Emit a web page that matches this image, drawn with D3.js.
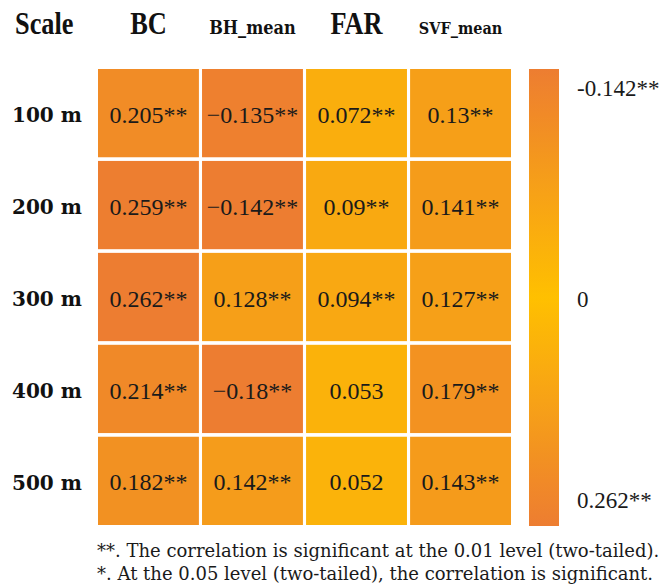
<!DOCTYPE html>
<html>
<head>
<meta charset="utf-8">
<script src="https://d3js.org/d3.v7.min.js"></script>
<style>
  body { margin: 0; background: #fff; }
  svg { display: block; }
</style>
</head>
<body>
<svg id="chart" width="665" height="588"></svg>
<script>
// data
var scales = ["100 m", "200 m", "300 m", "400 m", "500 m"];
var variables = ["BC", "BH_mean", "FAR", "SVF_mean"];
var values = [
  [0.205, -0.135, 0.072, 0.13],
  [0.259, -0.142, 0.09, 0.141],
  [0.262, 0.128, 0.094, 0.127],
  [0.214, -0.18, 0.053, 0.179],
  [0.182, 0.142, 0.052, 0.143]
];
var labels = [
  ["0.205**", "\u22120.135**", "0.072**", "0.13**"],
  ["0.259**", "\u22120.142**", "0.09**", "0.141**"],
  ["0.262**", "0.128**", "0.094**", "0.127**"],
  ["0.214**", "\u22120.18**", "0.053", "0.179**"],
  ["0.182**", "0.142**", "0.052", "0.143**"]
];
var legendValues = [-0.142, 0, 0.262];
var legendLabels = ["-0.142**", "0", "0.262**"];
var notes = [
  "**. The correlation is significant at the 0.01 level (two-tailed).",
  "*. At the 0.05 level (two-tailed), the correlation is significant."
];

var svg = d3.select("#chart");
var serif = "'Liberation Serif', serif";
var wideSerif = "'DejaVu Serif', serif";

var x = d3.scaleBand().domain(variables).range([98, 511]).paddingInner(0.03);
var y = d3.scaleBand().domain(scales).range([69, 525]).paddingInner(0.04);

var color = d3.scaleLinear()
  .domain(legendValues)
  .range(["#ED7D31", "#FFC000", "#ED7D31"])
  .clamp(true);

// header: short names tall & condensed, long names in a wider small face
var squeeze = 0.85;
var headStyle = {
  "BC": { font: serif, size: 31 },
  "BH_mean": { font: wideSerif, size: 19 },
  "FAR": { font: serif, size: 31 },
  "SVF_mean": { font: wideSerif, size: 17 }
};
var head = svg.append("g").attr("transform", "scale(" + squeeze + ",1)");
head.append("text")
  .attr("x", 15 / squeeze).attr("y", 34)
  .attr("font-family", serif).attr("font-weight", "bold")
  .attr("font-size", 31).attr("fill", "#111")
  .text("Scale");

head.selectAll("text.head")
  .data(variables)
  .join("text")
  .attr("class", "head")
  .attr("x", d => (x(d) + x.bandwidth() / 2) / squeeze)
  .attr("y", 34)
  .attr("text-anchor", "middle")
  .attr("font-family", d => headStyle[d].font).attr("font-weight", "bold")
  .attr("font-size", d => headStyle[d].size).attr("fill", "#111")
  .text(d => d);

// row labels
svg.selectAll("text.row")
  .data(scales)
  .join("text")
  .attr("class", "row")
  .attr("x", 12)
  .attr("y", d => y(d) + y.bandwidth() / 2)
  .attr("dy", "0.45em")
  .attr("font-family", wideSerif).attr("font-weight", "bold")
  .attr("font-size", 20).attr("fill", "#111")
  .text(d => d);

// cells
var cells = [];
values.forEach(function (row, i) {
  row.forEach(function (v, j) {
    cells.push({ row: scales[i], col: variables[j], value: v, label: labels[i][j] });
  });
});

svg.selectAll("rect.cell")
  .data(cells)
  .join("rect")
  .attr("class", "cell")
  .attr("x", d => x(d.col))
  .attr("y", d => y(d.row))
  .attr("width", x.bandwidth())
  .attr("height", y.bandwidth())
  .attr("fill", d => color(d.value));

svg.selectAll("text.cell")
  .data(cells)
  .join("text")
  .attr("class", "cell")
  .attr("x", d => x(d.col) + x.bandwidth() / 2)
  .attr("y", d => y(d.row) + y.bandwidth() / 2)
  .attr("dy", "0.4em")
  .attr("text-anchor", "middle")
  .attr("font-family", serif)
  .attr("font-size", 24).attr("fill", "#1a1a1a")
  .text(d => d.label);

// colour bar
var legendY = d3.scaleLinear().domain(legendValues).range([69, 297.5, 526]);
var defs = svg.append("defs");
var grad = defs.append("linearGradient")
  .attr("id", "bar").attr("x1", 0).attr("y1", 0).attr("x2", 0).attr("y2", 1);
var stops = d3.range(0, 1.0001, 0.05).map(t => legendY.invert(69 + t * (526 - 69)));
grad.selectAll("stop")
  .data(stops)
  .join("stop")
  .attr("offset", d => (legendY(d) - 69) / (526 - 69))
  .attr("stop-color", d => color(d));

svg.append("rect")
  .attr("x", 529).attr("y", legendY(legendValues[0]))
  .attr("width", 30)
  .attr("height", legendY(legendValues[2]) - legendY(legendValues[0]))
  .attr("fill", "url(#bar)");

var labelOffset = [27, 9, -18];
svg.selectAll("text.leg")
  .data(legendValues)
  .join("text")
  .attr("class", "leg")
  .attr("x", 577)
  .attr("y", (d, i) => legendY(d) + labelOffset[i])
  .attr("font-family", serif)
  .attr("font-size", 23).attr("fill", "#1a1a1a")
  .text((d, i) => legendLabels[i]);

// notes
svg.selectAll("text.note")
  .data(notes)
  .join("text")
  .attr("class", "note")
  .attr("x", 97)
  .attr("y", (d, i) => 557 + i * 23)
  .attr("font-family", wideSerif)
  .attr("font-size", 18).attr("fill", "#1a1a1a")
  .text(d => d);
</script>
</body>
</html>
